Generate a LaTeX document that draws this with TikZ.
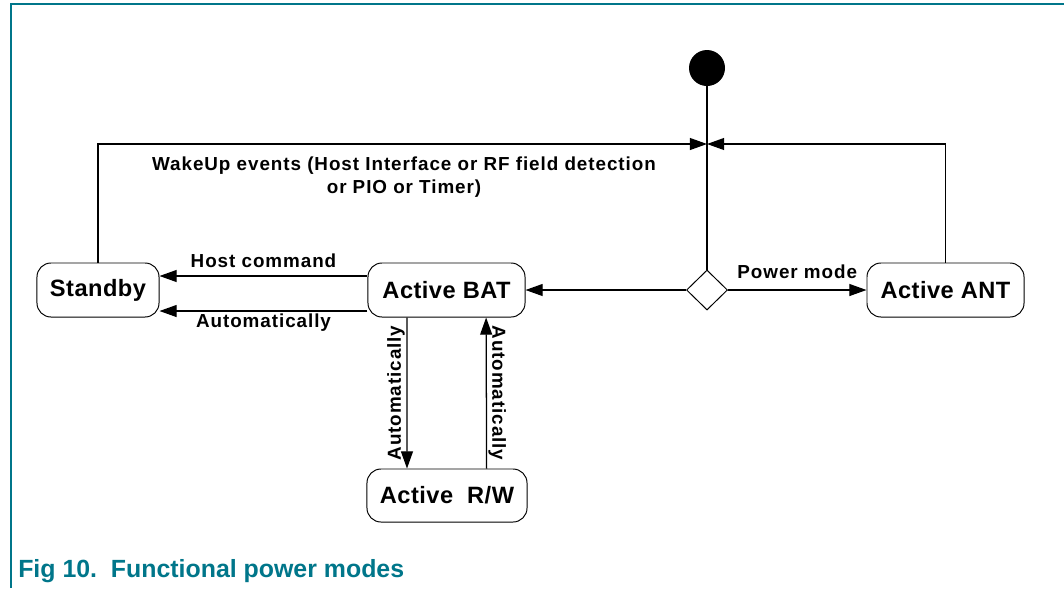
\documentclass[tikz,border=0pt]{standalone}
\usepackage{fontspec}
\setmainfont{Liberation Sans}
\usetikzlibrary{arrows.meta}
\usetikzlibrary{positioning}
\usetikzlibrary{shapes.geometric}
\definecolor{figteal}{RGB}{0,118,138}

\begin{document}
\begin{tikzpicture}[x=0.025cm,y=-0.025cm,
  >={Triangle[length=0.43cm,width=0.3cm]},
  every edge/.style={draw,line width=0.9pt},
  state/.style={draw,line width=0.7pt,rounded corners=0.35cm,minimum height=1.35cm,inner sep=0pt,
    font=\fontsize{16.8}{20}\selectfont\bfseries\addfontfeatures{LetterSpace=2}},
  lbl/.style={inner sep=1pt,font=\fontsize{13.4}{16.3}\selectfont\bfseries\addfontfeatures{LetterSpace=5}}]
\useasboundingbox (0,0) rectangle (1064,588);
% frame and caption
\draw[figteal,line width=1.4pt] (11,588) -- (11,4) -- (1064,4);
\node[anchor=base west,inner sep=0pt,text=figteal,font=\fontsize{17.7}{20}\selectfont\bfseries] (cap) at (18,577) {Fig 10.\ \ Functional power modes};
%
\node[circle,fill,minimum size=0.9cm,inner sep=0pt] (init) at (707,68) {};
\node[diamond,draw,line width=0.7pt,minimum width=1.025cm,minimum height=1cm,inner sep=0pt] (choice) at (707,290) {};
\node[state,minimum width=3.05cm] (sb) at (98,290) {Standby};
\node[state,minimum width=3.925cm] (bat) at (446.5,290) {Active BAT};
\node[state,minimum width=3.925cm] (ant) at (945.5,290) {Active ANT};
\node[state,minimum width=4cm,minimum height=1.325cm] (rw) at (447,495.5) {Active\ \ R/W};
\coordinate (join) at (707,144);
\node[lbl,align=center] (wake) at (404,177) {WakeUp events (Host Interface or RF field detection\\or PIO or Timer)};
%
\path (init) edge (choice);
{
\pgfsetarrows{->}
\path (sb.north) edge[to path={|- (\tikztotarget)}] (join);
\path (ant.north) edge[to path={|- (\tikztotarget)}] (join);
\path (choice) edge (bat);
\path (choice) edge node[lbl,above=0.24cm]{Power mode} (ant);
%
\path ([yshift=0.35cm]bat.west) edge node[lbl,above=0.16cm]{Host command} ([yshift=0.35cm]sb.east);
\path ([yshift=-0.525cm]bat.west) edge node[lbl,below=0.02cm]{Automatically} ([yshift=-0.525cm]sb.east);
%
\path ([xshift=-0.99cm]bat.south) edge node[lbl,rotate=90,anchor=south]{Automatically} ([xshift=-1cm]rw.north);
\path ([xshift=0.99cm]rw.north) edge node[lbl,rotate=-90,anchor=south]{Automatically} ([xshift=0.99cm]bat.south);
}
\end{tikzpicture}
\end{document}
